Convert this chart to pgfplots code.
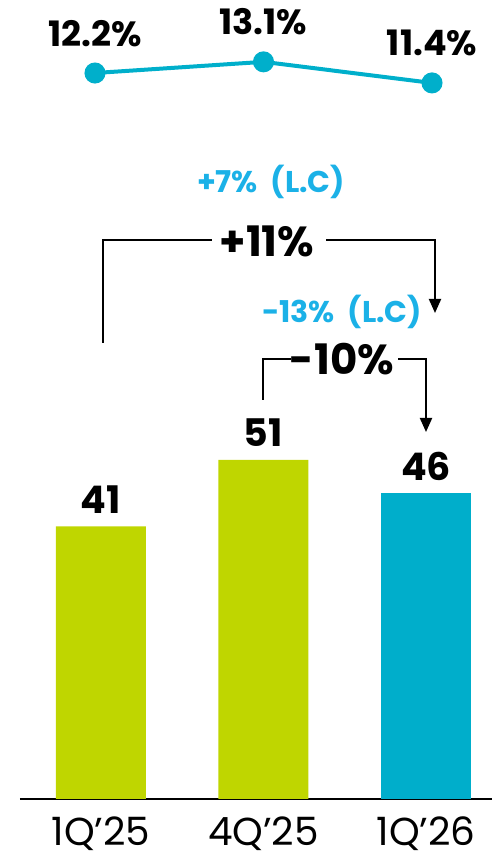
\documentclass[border=0pt]{standalone}
\usepackage{fontspec}
\setmainfont{Poppins}
\usepackage{pgfplots}
\pgfplotsset{compat=1.18}
\usetikzlibrary{arrows.meta}
\definecolor{limec}{HTML}{BFD600}
\definecolor{tealc}{HTML}{00AECB}
\definecolor{cyantxt}{HTML}{1BB1E7}
\definecolor{linec}{HTML}{00AFCB}
\begin{document}
\begin{tikzpicture}[x=1pt,y=1pt]
\path[use as bounding box] (0,0) rectangle (492,857);
\begin{axis}[at={(20pt,58pt)}, anchor=south west, scale only axis,
  width=472pt, height=799pt,
  xmin=-0.498, xmax=2.406, ymin=0, ymax=120.15,
  axis x line*=bottom, axis y line=none,
  axis line style={line width=2pt, black},
  xtick={0,1,2}, xticklabels={1Q’25,4Q’25,1Q’26}, major tick length=0pt,
  xticklabel style={font=\fontsize{39}{39}\selectfont, anchor=base, inner sep=0pt, yshift=-46pt},
  ybar, bar width=90pt, bar shift=0pt,
  nodes near coords,
  every node near coord/.append style={font=\bfseries\fontsize{38}{38}\selectfont, black, anchor=base, yshift=13pt},
  /pgf/number format/assume math mode=true,
  clip=false]
\addplot[fill=limec, draw=none] coordinates {(0,41) (1,51)};
\addplot[fill=tealc, draw=none] coordinates {(2,46)};
\end{axis}
\begin{axis}[at={(20pt,58pt)}, anchor=south west, scale only axis,
  width=472pt, height=799pt,
  xmin=-0.445, xmax=2.356, ymin=-46.35, ymax=18.09,
  hide axis, clip=false,
  nodes near coords={\pgfmathprintnumber[fixed,fixed zerofill,precision=1]{\pgfplotspointmeta}\%},
  every node near coord/.append style={font=\bfseries\fontsize{35}{35}\selectfont, black, anchor=base, yshift=27pt},
  /pgf/number format/assume math mode=true]
\addplot[linec, line width=4pt, mark=*, mark size=8.5pt, mark options={fill=linec, draw=none}] coordinates {(0,12.2) (1,13.1) (2,11.4)};
\end{axis}
% annotations
\draw[line width=2pt] (103,514) -- (103,617) -- (212,617);
\draw[line width=2pt, -{Triangle[width=12pt,length=14pt]}] (326,617) -- (435,617) -- (435,544);
\node[font=\bfseries\fontsize{42}{42}\selectfont, anchor=base] at (267,600) {+11\%};
\node[font=\bfseries\fontsize{30}{30}\selectfont, text=cyantxt, anchor=base] at (271,664) {+7\%\ \ (L.C)};
\node[font=\bfseries\fontsize{30}{30}\selectfont, text=cyantxt, anchor=base] at (342,534) {-13\%\ \ (L.C)};
\draw[line width=2pt] (263,457) -- (263,498) -- (291,498);
\draw[line width=2pt, -{Triangle[width=12pt,length=14pt]}] (398,498) -- (426,498) -- (426,425);
\node[font=\bfseries\fontsize{42}{42}\selectfont, anchor=base] at (342,482) {-10\%};
\end{tikzpicture}
\end{document}
